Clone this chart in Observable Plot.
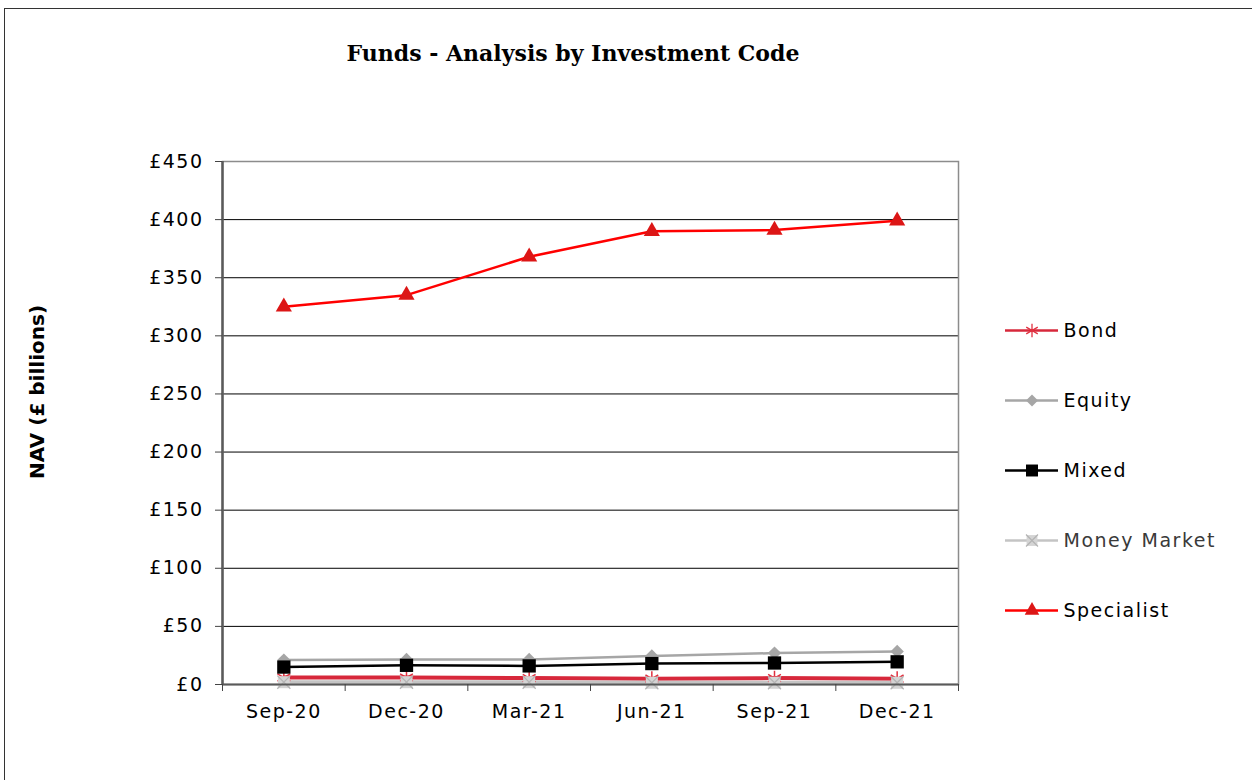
<!DOCTYPE html>
<html>
<head>
<meta charset="utf-8">
<script src="https://cdn.jsdelivr.net/npm/d3@7"></script>
<script src="https://cdn.jsdelivr.net/npm/@observablehq/plot@0.6"></script>
<style>
  html, body { margin: 0; padding: 0; background: #fff; overflow: hidden; }
  #wrap { position: relative; width: 1252px; height: 780px; overflow: hidden; }
  #border { position: absolute; left: 4px; top: 8px; width: 1400px; height: 900px; border: 1px solid #333; box-sizing: border-box; }
  #title { position: absolute; left: 0; width: 1146px; top: 40px; text-align: center;
           font-family: "DejaVu Serif", serif; font-weight: bold; font-size: 22px; color: #000; }
  #ylabel { position: absolute; left: 37px; top: 392px; transform: translate(-50%, -50%) rotate(-90deg);
            white-space: nowrap; font-family: "DejaVu Sans", sans-serif; font-weight: bold; font-size: 20px; color: #000; }
  #chart { position: absolute; left: 0; top: 0; }
  #legend { position: absolute; left: 990px; top: 294px; }
  svg text { letter-spacing: 1.5px; }
</style>
</head>
<body>
<div id="wrap">
  <div id="border"></div>
  <div id="title">Funds - Analysis by Investment Code</div>
  <div id="ylabel">NAV (£ billions)</div>
  <div id="chart"></div>
  <div id="legend"></div>
</div>
<script>
const categories = ["Sep-20", "Dec-20", "Mar-21", "Jun-21", "Sep-21", "Dec-21"];
const seriesNames = ["Bond", "Equity", "Mixed", "Money Market", "Specialist"];
const bond        = [6, 6, 5.5, 5, 5.5, 5];
const equity      = [21, 21.5, 21.5, 24.5, 27, 28.5];
const mixed       = [15, 16.5, 16, 18, 18.5, 19.5];
const moneyMarket = [2, 2, 2, 1.5, 1.5, 1.5];
const specialist  = [325, 335, 368, 390, 391, 399];
const yTicks = [0, 50, 100, 150, 200, 250, 300, 350, 400, 450];

const styles = {
  "Bond":         {line: "#d7283b", width: 4,   symbol: "asterisk", fill: "none",    stroke: "#e0303f", r: 7},
  "Equity":       {line: "#a6a6a6", width: 2.5, symbol: "diamond2", fill: "#a6a6a6", stroke: "none",    r: 6},
  "Mixed":        {line: "#000000", width: 2.5, symbol: "square",   fill: "#000000", stroke: "none",    r: 7.5},
  "Money Market": {line: "#c4c4c4", width: 4,   symbol: "square",   fill: "#d4d4d4", stroke: "none",    r: 6.8},
  "Specialist":   {line: "#ff0000", width: 2.5, symbol: "triangle", fill: "#dc1616", stroke: "none",    r: 6}
};

const values = {"Bond": bond, "Equity": equity, "Mixed": mixed, "Money Market": moneyMarket, "Specialist": specialist};
const rows = seriesNames.flatMap(s => values[s].map((v, i) => ({series: s, i, value: v})));

const marks = [
  Plot.gridY(yTicks.filter(d => d > 0 && d < 450), {stroke: "#000", strokeOpacity: 1, strokeWidth: 1}),
  Plot.frame({stroke: "#8c8c8c", strokeWidth: 1.5}),
];
for (const s of seriesNames) {
  const st = styles[s];
  const data = rows.filter(d => d.series === s);
  marks.push(Plot.line(data, {x: "i", y: "value", stroke: st.line, strokeWidth: st.width}));
}
for (const s of seriesNames) {
  const st = styles[s];
  const data = rows.filter(d => d.series === s);
  marks.push(Plot.dot(data, {x: "i", y: "value", symbol: st.symbol, r: st.r, fill: st.fill, stroke: st.stroke, strokeWidth: 1.5}));
  if (s === "Money Market") {
    marks.push(Plot.dot(data, {x: "i", y: "value", symbol: "times", r: 6, stroke: "#b4b4b4", strokeWidth: 1.2}));
  }
}
marks.push(
  Plot.ruleX([-0.5], {stroke: "#5a5a5a", strokeWidth: 2.5}),
  Plot.ruleY([0], {stroke: "#5a5a5a", strokeWidth: 2}),
  Plot.axisY({ticks: yTicks, tickSize: 7, tickPadding: 12, tickFormat: d => "£" + d, label: null, stroke: "#444"}),
  Plot.axisX({ticks: d3.range(-0.5, categories.length, 1), tickSize: 7, tickFormat: () => "", label: null, stroke: "#444"}),
  Plot.axisX({ticks: d3.range(categories.length), tickSize: 0, tickPadding: 20, tickFormat: i => categories[i], label: null})
);

const chart = Plot.plot({
  width: 1252, height: 780,
  marginLeft: 222, marginRight: 294, marginTop: 161, marginBottom: 96,
  style: {fontFamily: "DejaVu Sans, sans-serif", fontSize: "19px", color: "#000", background: "transparent"},
  x: {type: "linear", domain: [-0.5, categories.length - 0.5]},
  y: {domain: [0, 450]},
  marks
});
document.getElementById("chart").append(chart);

// Legend
const legendRows = seriesNames.map(s => ({series: s}));
const legendMarks = [
  Plot.ruleY(legendRows, {y: "series", x1: 0, x2: 1, stroke: d => styles[d.series].line, strokeWidth: d => Math.min(styles[d.series].width, 2.5)}),
];
for (const s of seriesNames) {
  const st = styles[s];
  const data = legendRows.filter(d => d.series === s);
  legendMarks.push(Plot.dot(data, {x: 0.5, y: "series", symbol: st.symbol, r: st.r * 0.9, fill: st.fill, stroke: st.stroke, strokeWidth: 1.3}));
  if (s === "Money Market") legendMarks.push(Plot.dot(data, {x: 0.5, y: "series", symbol: "times", r: 5.5, stroke: "#b4b4b4", strokeWidth: 1.2}));
}
legendMarks.push(Plot.text(legendRows, {x: 1, y: "series", text: "series", textAnchor: "start", dx: 5,
  fill: d => d.series === "Money Market" ? "#3a3a3a" : "#000"}));
const legend = Plot.plot({
  width: 262, height: 352,
  margin: 0,
  style: {fontFamily: "DejaVu Sans, sans-serif", fontSize: "19px", background: "transparent"},
  x: {domain: [0, 1], range: [15, 68], axis: null},
  y: {type: "point", domain: seriesNames, range: [35, 316], padding: 0, axis: null},
  marks: legendMarks
});
document.getElementById("legend").append(legend);
</script>
</body>
</html>
